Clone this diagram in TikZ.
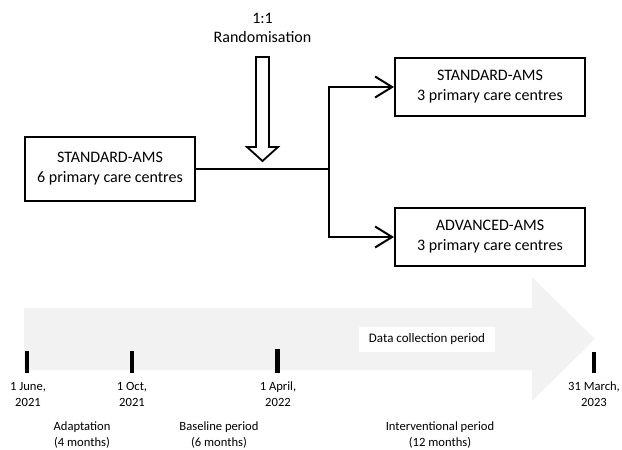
\documentclass[tikz,border=0pt]{standalone}
\usepackage{fontspec}
\setmainfont{Carlito}
\usetikzlibrary{arrows.meta}
\definecolor{band}{RGB}{242,242,242}
\tikzset{
  box/.style={draw, line width=2pt, minimum width=190pt, minimum height=58pt, align=center, inner sep=0pt, font=\fontsize{16}{20}\selectfont},
  conn/.style={line width=2pt},
  arr/.style={conn, -{Straight Barb[length=17pt,width=21pt,line width=2pt]}},
  tick/.style={fill=black, minimum width=4pt, minimum height=22pt, inner sep=0pt},
  lbl/.style={align=center, inner sep=0pt, font=\fontsize{12.6}{16}\selectfont},
}
\begin{document}
\begin{tikzpicture}[x=1pt,y=-1pt]
\useasboundingbox (0,0) rectangle (622,450);
% grey timeline arrow
\fill[band] (24,308) -- (532,308) -- (532,277) -- (595,339) -- (532,401) -- (532,370) -- (24,370) -- cycle;
\node[fill=white, minimum width=136pt, minimum height=25pt, inner sep=0pt, font=\fontsize{13}{16}\selectfont] (dcp) at (427,339.5) {Data collection period};
% boxes
\node[box, minimum width=170pt, minimum height=64pt] (src) at (110,169) {STANDARD-AMS\\6 primary care centres};
\node[box] (std) at (490,87) {STANDARD-AMS\\3 primary care centres};
\node[box] (adv) at (490,237) {ADVANCED-AMS\\3 primary care centres};
\coordinate (split) at (329,169);
\draw[conn] (src.east) -- (split);
\draw[arr] (split) |- (std.west);
\draw[arr] (split) |- (adv.west);
% randomisation
\node[align=center, inner sep=0pt, font=\fontsize{16}{19}\selectfont] (rand) at (262.5,28) {1:1\\Randomisation};
\draw[line width=1.8pt, fill=white, line join=miter] (256,57) -- (269,57) -- (269,147) -- (278,147) -- (262.5,161) -- (247,147) -- (256,147) -- cycle;
% ticks
\node[tick] (t1) at (27,362) {};
\node[tick] (t2) at (132,362) {};
\node[tick, minimum width=5.5pt, minimum height=24pt] (t3) at (277.5,361) {};
\node[tick, minimum height=21pt] (t4) at (594,362) {};
% labels
\node[lbl] (l1) at (28,394.5) {1 June,\\2021};
\node[lbl] (l2) at (132,394.5) {1 Oct,\\2021};
\node[lbl] (l3) at (278,394.5) {1 April,\\2022};
\node[lbl] (l4) at (594,394.5) {31 March,\\2023};
\node[lbl] (p1) at (82,435) {Adaptation\\(4 months)};
\node[lbl] (p2) at (219,435) {Baseline period\\(6 months)};
\node[lbl] (p3) at (440,435) {Interventional period\\(12 months)};
\end{tikzpicture}
\end{document}
